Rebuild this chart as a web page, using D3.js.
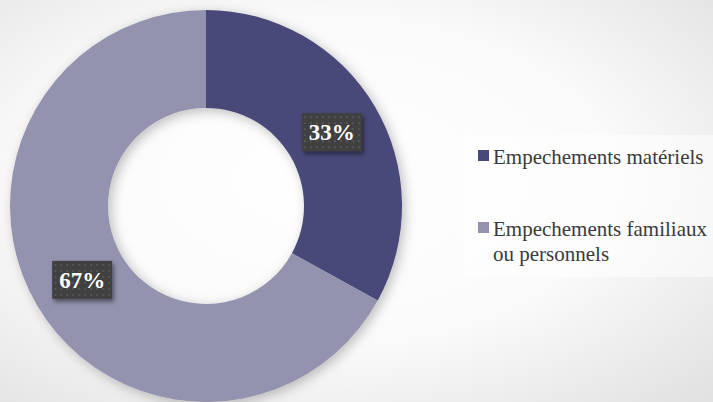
<!DOCTYPE html>
<html>
<head>
<meta charset="utf-8">
<script src="https://cdn.jsdelivr.net/npm/d3@7"></script>
<style>
  html, body { margin: 0; padding: 0; }
  body { width: 713px; height: 402px; overflow: hidden; }
  .serif { font-family: "Liberation Serif", "DejaVu Serif", "Noto Serif", "Times New Roman", Tinos, FreeSerif, Georgia, serif; }
</style>
</head>
<body>
<div id="vis"></div>
<script>
// data
const categories = ["Empechements matériels", "Empechements familiaux ou personnels"];
const values = [33, 67];
const labels = ["33%", "67%"];
const legendLines = [["Empechements matériels"], ["Empechements familiaux", "ou personnels"]];
const colors = ["#494979", "#9393af"];

const width = 713, height = 402;
const cx = 206, cy = 206;
const outerR = 196, innerR = 98;

let svg = d3.select("#vis")
  .append("svg")
  .attr("width", width)
  .attr("height", height);

let defs = svg.append("defs");

// background gradient
let bg = defs.append("radialGradient")
  .attr("id", "bg")
  .attr("cx", "45%").attr("cy", "45%").attr("r", "75%");
bg.append("stop").attr("offset", "0%").attr("stop-color", "#ffffff");
bg.append("stop").attr("offset", "55%").attr("stop-color", "#fafafa");
bg.append("stop").attr("offset", "100%").attr("stop-color", "#e2e2e2");

let shadow = defs.append("filter")
  .attr("id", "shadow")
  .attr("x", "-20%").attr("y", "-20%").attr("width", "140%").attr("height", "140%");
shadow.append("feDropShadow")
  .attr("dx", 3).attr("dy", 3).attr("stdDeviation", 6)
  .attr("flood-color", "#000").attr("flood-opacity", 0.25);

let boxShadow = defs.append("filter")
  .attr("id", "boxshadow")
  .attr("x", "-30%").attr("y", "-30%").attr("width", "160%").attr("height", "160%");
boxShadow.append("feDropShadow")
  .attr("dx", 2).attr("dy", 3).attr("stdDeviation", 2)
  .attr("flood-color", "#000").attr("flood-opacity", 0.45);

let dots = defs.append("pattern")
  .attr("id", "dots")
  .attr("width", 6).attr("height", 6)
  .attr("patternUnits", "userSpaceOnUse");
dots.append("rect").attr("width", 6).attr("height", 6).attr("fill", "#3f3f3f");
dots.append("rect").attr("x", 2).attr("y", 2).attr("width", 2).attr("height", 2).attr("fill", "#555555");

svg.append("rect")
  .attr("width", width).attr("height", height)
  .attr("fill", "url(#bg)");

// donut
let pie = d3.pie().sort(null).value(d => d);
let arc = d3.arc().innerRadius(innerR).outerRadius(outerR);
let arcs = pie(values);

let g = svg.append("g")
  .attr("transform", `translate(${cx},${cy})`);

g.append("g")
  .attr("filter", "url(#shadow)")
  .selectAll("path")
  .data(arcs)
  .join("path")
  .attr("d", arc)
  .attr("fill", (d, i) => colors[i]);

// labels
let labelArc = d3.arc().innerRadius(outerR * 0.74).outerRadius(outerR * 0.74);
const boxW = 60, boxH = 38;
let lab = g.selectAll("g.lab")
  .data(arcs)
  .join("g")
  .attr("class", "lab")
  .attr("transform", (d, i) => {
    let c = labelArc.centroid(d);
    return `translate(${c[0] + 1},${c[1]})`;
  });

lab.append("rect")
  .attr("x", -boxW / 2).attr("y", -boxH / 2)
  .attr("width", boxW).attr("height", boxH)
  .attr("fill", "url(#dots)")
  .attr("filter", "url(#boxshadow)");

lab.append("text")
  .attr("class", "serif")
  .attr("text-anchor", "middle")
  .attr("y", 8)
  .attr("font-weight", "bold")
  .attr("font-size", 23)
  .attr("fill", "#ffffff")
  .text((d, i) => labels[i]);

// legend
svg.append("rect")
  .attr("x", 463).attr("y", 135)
  .attr("width", 250).attr("height", 142)
  .attr("fill", "#ffffff")
  .attr("opacity", 0.5);

let legendY = d3.scalePoint().domain(categories).range([155, 227]);

let leg = svg.selectAll("g.leg")
  .data(categories)
  .join("g")
  .attr("class", "leg")
  .attr("transform", d => `translate(478,${legendY(d)})`);

leg.append("rect")
  .attr("x", 0).attr("y", -5)
  .attr("width", 11).attr("height", 11)
  .attr("fill", (d, i) => colors[i]);

leg.append("text")
  .attr("class", "serif")
  .attr("x", 15)
  .attr("y", 9)
  .attr("font-size", 21)
  .attr("fill", "#3a3a3a")
  .selectAll("tspan")
  .data((d, i) => legendLines[i])
  .join("tspan")
  .attr("x", 15)
  .attr("dy", (d, j) => j === 0 ? 0 : 25)
  .text(d => d);
</script>
</body>
</html>
